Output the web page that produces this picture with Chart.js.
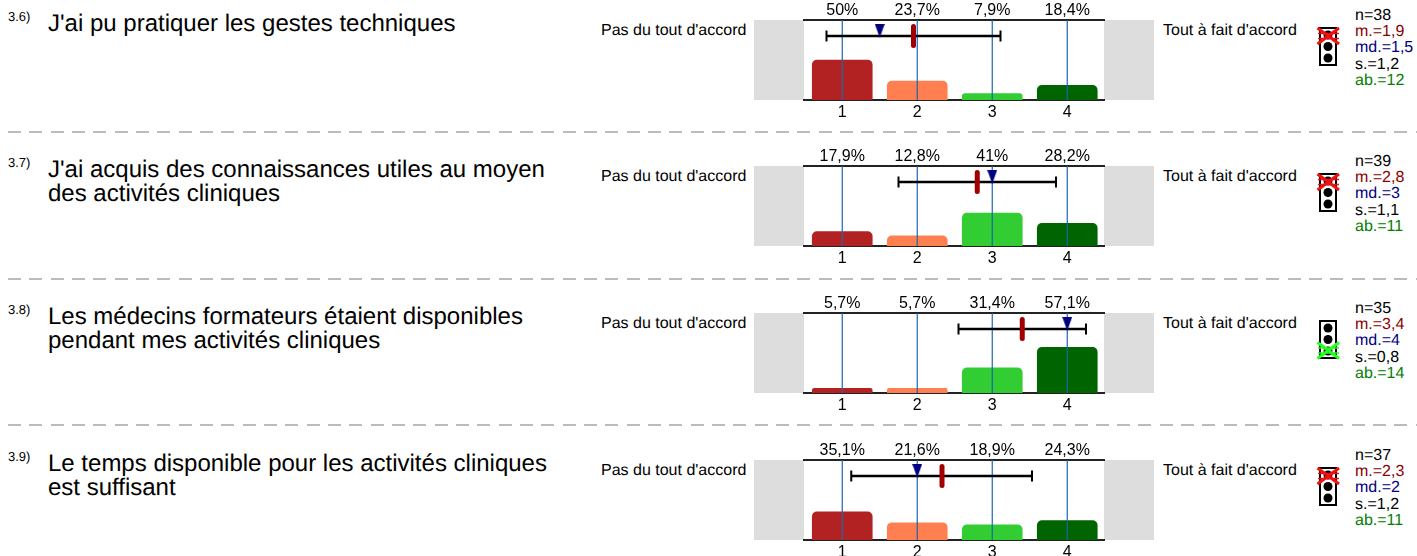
<!DOCTYPE html>
<html>
<head>
<meta charset="utf-8">
<script src="https://cdn.jsdelivr.net/npm/chart.js@4"></script>
<style>
    html, body { margin: 0; padding: 0; background: #fff; overflow: hidden; }
    body { width: 1417px; height: 556px; position: relative; font-family: "Liberation Sans", Arial, sans-serif; color: #000; text-rendering: geometricPrecision; }
    .abs { position: absolute; white-space: nowrap; }
    .num { left: 8px; font-size: 13px; line-height: 14px; }
    .title { left: 48px; font-size: 24px; line-height: 24px; }
    .scale-label { font-size: 16px; line-height: 16px; }
    .band { position: absolute; width: 50px; height: 80px; background: #ddd; }
    .sep { position: absolute; left: 8px; width: 1409px; height: 2px;
           background: repeating-linear-gradient(to right, #bbb 0, #bbb 13px, transparent 13px, transparent 21.33px); }
    .stats { left: 1355px; font-size: 16px; line-height: 16.2px; }
    canvas.chart { position: absolute; left: 754px; }
    svg.light { position: absolute; left: 1315px; }
</style>
</head>
<body>
<script>
// Data
const questionNumbers = ['3.6)', '3.7)', '3.8)', '3.9)'];
const questionTitles = [
    ["J'ai pu pratiquer les gestes techniques"],
    ["J'ai acquis des connaissances utiles au moyen", 'des activités cliniques'],
    ['Les médecins formateurs étaient disponibles', 'pendant mes activités cliniques'],
    ['Le temps disponible pour les activités cliniques', 'est suffisant']
];
const categories = [1, 2, 3, 4];
const percents = [
    [50, 23.7, 7.9, 18.4],
    [17.9, 12.8, 41, 28.2],
    [5.7, 5.7, 31.4, 57.1],
    [35.1, 21.6, 18.9, 24.3]
];
const means = [1.95, 2.8, 3.4, 2.33];
const medians = [1.5, 3, 4, 2];
const sdLow = [0.79, 1.75, 2.55, 1.12];
const sdHigh = [3.11, 3.85, 4.25, 3.53];
const statN = ['n=38', 'n=39', 'n=35', 'n=37'];
const statM = ['m.=1,9', 'm.=2,8', 'm.=3,4', 'm.=2,3'];
const statMd = ['md.=1,5', 'md.=3', 'md.=4', 'md.=2'];
const statS = ['s.=1,2', 's.=1,1', 's.=0,8', 's.=1,2'];
const statAb = ['ab.=12', 'ab.=11', 'ab.=14', 'ab.=11'];
const lightOn = [0, 0, 2, 0]; // which lamp is crossed out
const leftLabel = "Pas du tout d'accord";
const rightLabel = 'Tout à fait d\'accord';
const barColors = ['#B22222', '#FF7F50', '#32CD32', '#006400'];

const panelTops = [20, 166, 313, 460];
const sepTops = [131, 278, 424];
const fontFamily = '"Liberation Sans", Arial, sans-serif';

function addText(cls, left, top, text, color) {
    const el = document.createElement('div');
    el.className = 'abs ' + cls;
    if (left !== null) el.style.left = left + 'px';
    el.style.top = top + 'px';
    if (color) el.style.color = color;
    el.textContent = text;
    document.body.appendChild(el);
}

// Narrow downward triangle for the median
const medianMark = document.createElement('canvas');
medianMark.width = 10;
medianMark.height = 14;
const mm = medianMark.getContext('2d');
mm.fillStyle = '#000080';
mm.beginPath();
mm.moveTo(0, 0);
mm.lineTo(10, 0);
mm.lineTo(5, 14);
mm.closePath();
mm.fill();

function addLight(top, lamp) {
    const colors = ['#ee1111', '#ffaa00', '#22ff22'];
    const cy = [16, 26.5, 37.5][lamp];
    const c = colors[lamp];
    const svg = `<svg class="light" style="top:${top - 7}px" width="28" height="52" xmlns="http://www.w3.org/2000/svg">
        <rect x="5" y="8" width="16" height="37" fill="#fff" stroke="#000" stroke-width="2"/>
        <circle cx="13" cy="15" r="4.5"/><circle cx="13" cy="26.5" r="4.5"/><circle cx="13" cy="38" r="4.5"/>
        <g stroke="${c}" fill="none">
            <line x1="2.5" y1="${cy - 8}" x2="24" y2="${cy + 8}" stroke-width="3"/>
            <line x1="2.5" y1="${cy + 8}" x2="24" y2="${cy - 8}" stroke-width="3"/>
            <line x1="3" y1="${cy - 2.5}" x2="24" y2="${cy - 2.5}" stroke-width="1.5"/>
            <line x1="3" y1="${cy + 2.5}" x2="24" y2="${cy + 2.5}" stroke-width="1.5"/>
        </g></svg>`;
    document.body.insertAdjacentHTML('beforeend', svg);
}

function drawPanel(i) {
    const top = panelTops[i];

    addText('num', null, top - 10, questionNumbers[i]);
    questionTitles[i].forEach((line, k) => addText('title', null, top - 8 + k * 24, line));
    addText('scale-label', 601, top + 3, leftLabel);
    addText('scale-label', 1163, top + 3, rightLabel);

    [754, 1104].forEach(x => {
        const band = document.createElement('div');
        band.className = 'band';
        band.style.left = x + 'px';
        band.style.top = top + 'px';
        document.body.appendChild(band);
    });

    const canvas = document.createElement('canvas');
    canvas.className = 'chart';
    canvas.width = 400;
    canvas.height = 120;
    canvas.style.top = (top - 20) + 'px';
    canvas.style.width = '400px';
    canvas.style.height = '120px';
    document.body.appendChild(canvas);

    const pct = percents[i];
    const ticksAt = axis => { axis.ticks = categories.map(v => ({ value: v })); };
    const axisBase = {
        type: 'linear',
        min: 0.49,
        max: 4.49,
        offset: false,
        afterBuildTicks: ticksAt,
        grid: { display: false, drawTicks: false },
        border: { color: '#222', width: 2 }
    };

    const guides = categories.map(c => ({
        type: 'line',
        data: [{ x: c, y: 0 }, { x: c, y: 100 }],
        borderColor: '#1a66b0',
        borderWidth: 1.2,
        pointRadius: 0,
        order: 3
    }));

    new Chart(canvas, {
        type: 'bar',
        data: {
            datasets: [
                // median
                {
                    type: 'line',
                    data: [{ x: medians[i], y: 86.5 }],
                    showLine: false,
                    pointStyle: medianMark,
                    order: 0
                },
                // mean
                {
                    type: 'line',
                    data: [{ x: means[i], y: 92 }, { x: means[i], y: 68 }],
                    borderColor: '#a00000',
                    borderWidth: 5,
                    borderCapStyle: 'round',
                    pointRadius: 0,
                    order: 1
                },
                // mean +/- standard deviation
                {
                    type: 'line',
                    data: [{ x: sdLow[i], y: 80 }, { x: sdHigh[i], y: 80 }],
                    borderColor: '#000',
                    borderWidth: 2.4,
                    pointStyle: 'line',
                    pointRotation: 90,
                    pointRadius: 5.5,
                    pointBorderColor: '#000',
                    pointBorderWidth: 2,
                    order: 2
                },
                ...guides,
                {
                    data: categories.map((c, k) => ({ x: c, y: pct[k] })),
                    backgroundColor: barColors,
                    barThickness: 60,
                    borderRadius: { topLeft: 5, topRight: 5 },
                    borderSkipped: 'bottom',
                    order: 4
                }
            ]
        },
        options: {
            responsive: false,
            animation: false,
            events: [],
            layout: { padding: { left: 50, right: 50, top: 0, bottom: 0 } },
            plugins: { legend: { display: false }, tooltip: { enabled: false } },
            scales: {
                x: {
                    ...axisBase,
                    position: 'bottom',
                    afterFit: axis => { axis.height = 20; },
                    ticks: {
                        padding: 3,
                        color: '#000',
                        maxRotation: 0,
                        font: { family: fontFamily, size: 16 },
                        callback: v => String(v)
                    }
                },
                xTop: {
                    ...axisBase,
                    position: 'top',
                    afterFit: axis => { axis.height = 20; },
                    ticks: {
                        padding: 0,
                        color: '#000',
                        maxRotation: 0,
                        font: { family: fontFamily, size: 16 },
                        callback: v => String(pct[v - 1]).replace('.', ',') + '%'
                    }
                },
                y: { display: false, min: 0, max: 100 }
            }
        }
    });

    addLight(top + 7, lightOn[i]);

    const stats = [[statN, '#000'], [statM, '#8b0000'], [statMd, '#000080'], [statS, '#000'], [statAb, '#008000']];
    stats.forEach(([list, color], k) => addText('stats', null, top - 12 + k * 16.2, list[i], color));
}

sepTops.forEach(y => {
    const sep = document.createElement('div');
    sep.className = 'sep';
    sep.style.top = y + 'px';
    document.body.appendChild(sep);
});
panelTops.forEach((_, i) => drawPanel(i));
</script>
</body>
</html>
